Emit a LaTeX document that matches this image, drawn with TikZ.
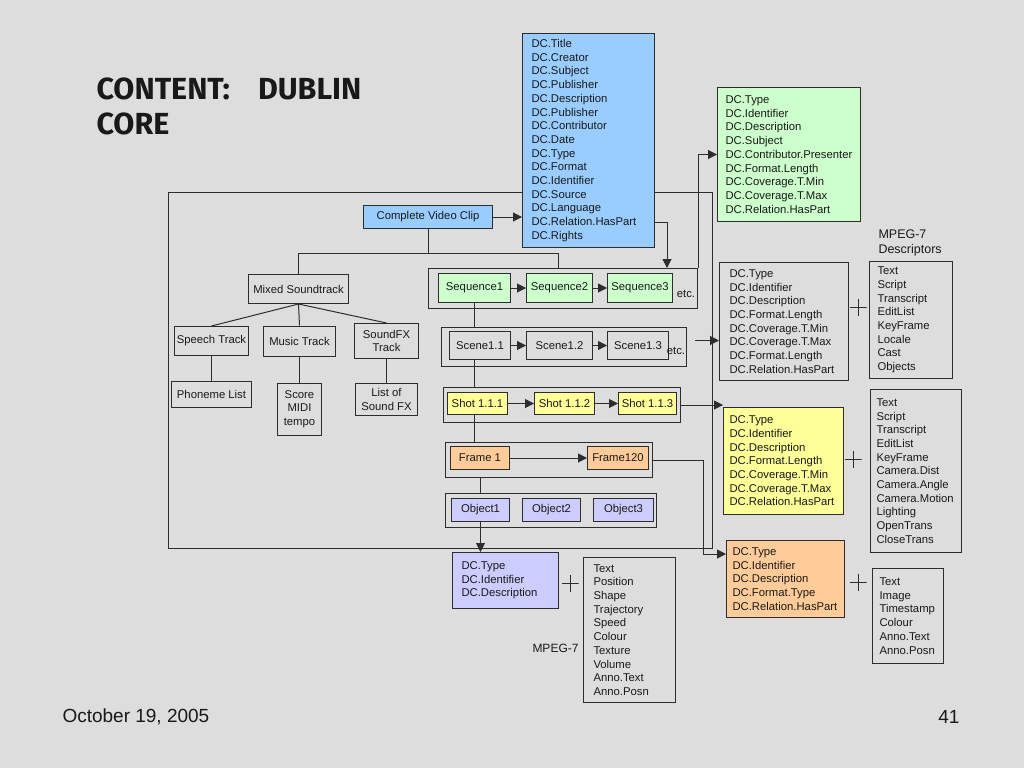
\documentclass[tikz,border=0pt]{standalone}
\usepackage{fontspec}
\setmainfont{Liberation Sans}
\newfontfamily\titlefont{Fira Sans}
\usetikzlibrary{arrows.meta, positioning}

\definecolor{bgcol}{RGB}{221,221,221}
\definecolor{linecol}{RGB}{45,45,45}
\definecolor{clipblue}{RGB}{153,204,255}
\definecolor{seqgreen}{RGB}{204,255,204}
\definecolor{shotyellow}{RGB}{255,255,153}
\definecolor{frameorange}{RGB}{255,204,153}
\definecolor{objlilac}{RGB}{204,204,255}

\begin{document}
\begin{tikzpicture}[x=1pt, y=-1pt, >={Triangle[length=9pt,width=9pt]}, line width=1pt,
    every node/.style={text=black!90, font=\fontsize{11.3}{13.7}\selectfont},
    every edge/.style={draw=linecol},
    box/.style={draw=linecol, align=center, inner sep=0pt, minimum height=23pt},
    group/.style={draw=linecol, anchor=north west, inner sep=0pt},
    dclist/.style={draw=linecol, anchor=north west, align=left, inner ysep=0pt},
    plus/.style={minimum size=17pt, inner sep=0pt, path picture={\draw[linecol]
        (path picture bounding box.west) -- (path picture bounding box.east)
        (path picture bounding box.north) -- (path picture bounding box.south);}},
    hv/.style={to path={-| (\tikztotarget)}},
    vh/.style={to path={|- (\tikztotarget)}}]
	\fill[bgcol] (0,0) rectangle (1024,768);
	
	\node[anchor=north west, inner sep=0pt, align=left, font=\titlefont\bfseries\fontsize{30.5}{35}\selectfont] (title) at (96,77) {CONTENT:\hspace{28pt}DUBLIN\\CORE};
	
	\node[group, minimum width=544pt, minimum height=356pt] (videobox) at (168,192) {};
	
	\node[dclist, fill=clipblue, text width=114pt, inner xsep=9pt, minimum height=214pt] (dcclip) at (522,33) {DC.Title\\DC.Creator\\DC.Subject\\DC.Publisher\\DC.Description\\DC.Publisher\\DC.Contributor\\DC.Date\\DC.Type\\DC.Format\\DC.Identifier\\DC.Source\\DC.Language\\DC.Relation.HasPart\\DC.Rights};
	\node[box, fill=clipblue, anchor=north west, minimum width=129pt] (cvc) at (363,205) {Complete Video Clip};
	\coordinate (hasp) at (654,222);
	\coordinate (bus) at (428,253);
	
	\node[box, anchor=north west, minimum width=100pt, minimum height=29pt] (mixed) at (248,274) {Mixed Soundtrack};
	\node[box, anchor=north west, minimum width=74pt, minimum height=29pt] (speech) at (174,326) {Speech Track};
	\node[box, minimum width=72pt, minimum height=30pt, right=14pt of speech] (music) {Music Track};
	\node[box, minimum width=64pt, minimum height=35pt, right=18pt of music] (sfx) {SoundFX\\Track};
	\node[box, minimum width=80pt, minimum height=26pt, below=25pt of speech] (phoneme) {Phoneme List};
	\node[box, minimum width=44pt, minimum height=52pt, below=26pt of music] (score) {Score\\MIDI\\tempo};
	\node[box, minimum width=62pt, minimum height=32pt, below=24pt of sfx] (sfxlist) {List of\\Sound FX};
	
	\node[group, minimum width=269pt, minimum height=40pt] (seqgrp) at (428,268) {};
	\node[box, fill=seqgreen, anchor=north west, minimum width=72pt, minimum height=29pt] (seq1) at (438,273) {Sequence1};
	\node[box, fill=seqgreen, minimum width=66pt, minimum height=29pt, right=15pt of seq1] (seq2) {Sequence2};
	\node[box, fill=seqgreen, minimum width=65pt, minimum height=29pt, right=14pt of seq2] (seq3) {Sequence3};
	\node (seqetc) at (686,294) {etc.};
	
	\node[group, minimum width=245pt, minimum height=39pt] (scngrp) at (441,327) {};
	\node[box, anchor=north west, minimum width=61pt, minimum height=28pt] (scn1) at (449,331) {Scene1.1};
	\node[box, minimum width=66pt, minimum height=28pt, right=15pt of scn1] (scn2) {Scene1.2};
	\node[box, minimum width=61pt, minimum height=28pt, right=14pt of scn2] (scn3) {Scene1.3};
	\node (scnetc) at (676,351) {etc.};
	\coordinate (scnout) at ([xshift=8pt,yshift=6.5pt]scngrp.east);
	
	\node[group, minimum width=237pt, minimum height=35pt] (shtgrp) at (443,387) {};
	\node[box, fill=shotyellow, anchor=north west, minimum width=60pt, minimum height=22pt] (sht1) at (447,392) {Shot 1.1.1};
	\node[box, fill=shotyellow, minimum width=60pt, minimum height=22pt, right=26pt of sht1] (sht2) {Shot 1.1.2};
	\node[box, fill=shotyellow, minimum width=58pt, minimum height=22pt, right=23pt of sht2] (sht3) {Shot 1.1.3};
	
	\node[group, minimum width=207pt, minimum height=35pt] (frmgrp) at (445,442) {};
	\node[box, fill=frameorange, anchor=north west, minimum width=59pt] (frm1) at (450,446) {Frame 1};
	\node[box, fill=frameorange, minimum width=61pt, right=77pt of frm1] (frm120) {Frame120};
	
	\node[group, minimum width=211pt, minimum height=34pt] (objgrp) at (445,493) {};
	\node[box, fill=objlilac, anchor=north west, minimum width=58pt] (obj1) at (451,498) {Object1};
	\node[box, fill=objlilac, minimum width=58pt, right=12pt of obj1] (obj2) {Object2};
	\node[box, fill=objlilac, minimum width=60pt, right=12pt of obj2] (obj3) {Object3};
	
	\node[dclist, fill=seqgreen, text width=127pt, inner xsep=8pt, minimum height=134pt] (dcseq) at (717,87) {DC.Type\\DC.Identifier\\DC.Description\\DC.Subject\\DC.Contributor.Presenter\\DC.Format.Length\\DC.Coverage.T.Min\\DC.Coverage.T.Max\\DC.Relation.HasPart};
	\node[dclist, text width=109pt, inner xsep=10pt, minimum height=118pt] (dcscn) at (719,262) {DC.Type\\DC.Identifier\\DC.Description\\DC.Format.Length\\DC.Coverage.T.Min\\DC.Coverage.T.Max\\DC.Format.Length\\DC.Relation.HasPart};
	\node[dclist, fill=shotyellow, text width=108pt, inner xsep=6pt, minimum height=107pt] (dcsht) at (723,407) {DC.Type\\DC.Identifier\\DC.Description\\DC.Format.Length\\DC.Coverage.T.Min\\DC.Coverage.T.Max\\DC.Relation.HasPart};
	\node[dclist, fill=frameorange, text width=106pt, inner xsep=6pt, minimum height=77pt] (dcfrm) at (726,540) {DC.Type\\DC.Identifier\\DC.Description\\DC.Format.Type\\DC.Relation.HasPart};
	\node[dclist, fill=objlilac, text width=88pt, inner xsep=9pt, minimum height=56pt] (dcobj) at (452,552) {DC.Type\\DC.Identifier\\DC.Description};
	\coordinate (drop) at ([xshift=-23pt,yshift=-14pt]dcfrm.north west);
	
	\node[plus] (plus1) at (858,307) {};
	\node[plus] (plus2) at (853,459) {};
	\node[plus] (plus3) at (858,582) {};
	\node[plus] (plus4) at (570,583) {};
	
	\node[anchor=north west, inner sep=0pt, align=left, font=\fontsize{12.5}{15.5}\selectfont] (mpeglbl) at (878,229) {MPEG-7\\Descriptors};
	\node[dclist, text width=67pt, inner xsep=8pt, minimum height=117pt] (desc1) at (869,261) {Text\\Script\\Transcript\\EditList\\KeyFrame\\Locale\\Cast\\Objects};
	\node[dclist, text width=79pt, inner xsep=6pt, minimum height=163pt] (desc2) at (870,389) {Text\\Script\\Transcript\\EditList\\KeyFrame\\Camera.Dist\\Camera.Angle\\Camera.Motion\\Lighting\\OpenTrans\\CloseTrans};
	\node[dclist, text width=57pt, inner xsep=7pt, minimum height=95pt] (desc3) at (872,568) {Text\\Image\\Timestamp\\Colour\\Anno.Text\\Anno.Posn};
	\node[dclist, text width=72pt, inner xsep=10pt, minimum height=145pt] (desc4) at (583,557) {Text\\Position\\Shape\\Trajectory\\Speed\\Colour\\Texture\\Volume\\Anno.Text\\Anno.Posn};
	\node[anchor=east, inner sep=0pt, font=\fontsize{12}{14}\selectfont] (mpeglbl2) at (579,648) {MPEG-7};
	
	\node[anchor=west, inner sep=0pt, font=\fontsize{19}{22}\selectfont] (date) at (62,717) {October 19, 2005};
	\node[anchor=east, inner sep=0pt, font=\fontsize{19}{22}\selectfont] (pageno) at (960,717) {41};
	
	\path
	(cvc) edge (bus)
	(mixed.north) edge[vh] (bus)
	(bus) edge[hv] ([xshift=130pt]seqgrp.north west)
	(mixed.south) edge (speech.north)
	(mixed.south) edge (music.north)
	(mixed.south) edge (sfx.north)
	(speech) edge (phoneme)
	(music) edge (score)
	(sfx) edge (sfxlist)
	(seq1) edge (seq1 |- scngrp.north)
	(seq1 |- scn1.south) edge (seq1 |- shtgrp.north)
	(seq1 |- sht1.south) edge (seq1 |- frmgrp.north)
	(frm1 |- frmgrp.south) edge (frm1 |- objgrp.north)
	(frmgrp.east) edge[hv] (drop);
	
	\path
	(cvc.east) edge[->] (cvc.east -| dcclip.west)
	(hasp) edge[->, hv] ([xshift=-31pt]seqgrp.north east)
	(seq1) edge[->] (seq2)
	(seq2) edge[->] (seq3)
	(scn1) edge[->] (scn2)
	(scn2) edge[->] (scn3)
	(sht1) edge[->] (sht2)
	(sht2) edge[->] (sht3)
	(frm1) edge[->] (frm120)
	(seqgrp.north east) edge[->, vh] (dcseq.west)
	(scnout) edge[->] (scnout -| dcscn.west)
	(shtgrp) edge[->] (shtgrp.east -| dcsht.west)
	(drop) edge[->] (drop -| dcfrm.west)
	(obj1) edge[->] (obj1 |- dcobj.north);
\end{tikzpicture}
\end{document}
